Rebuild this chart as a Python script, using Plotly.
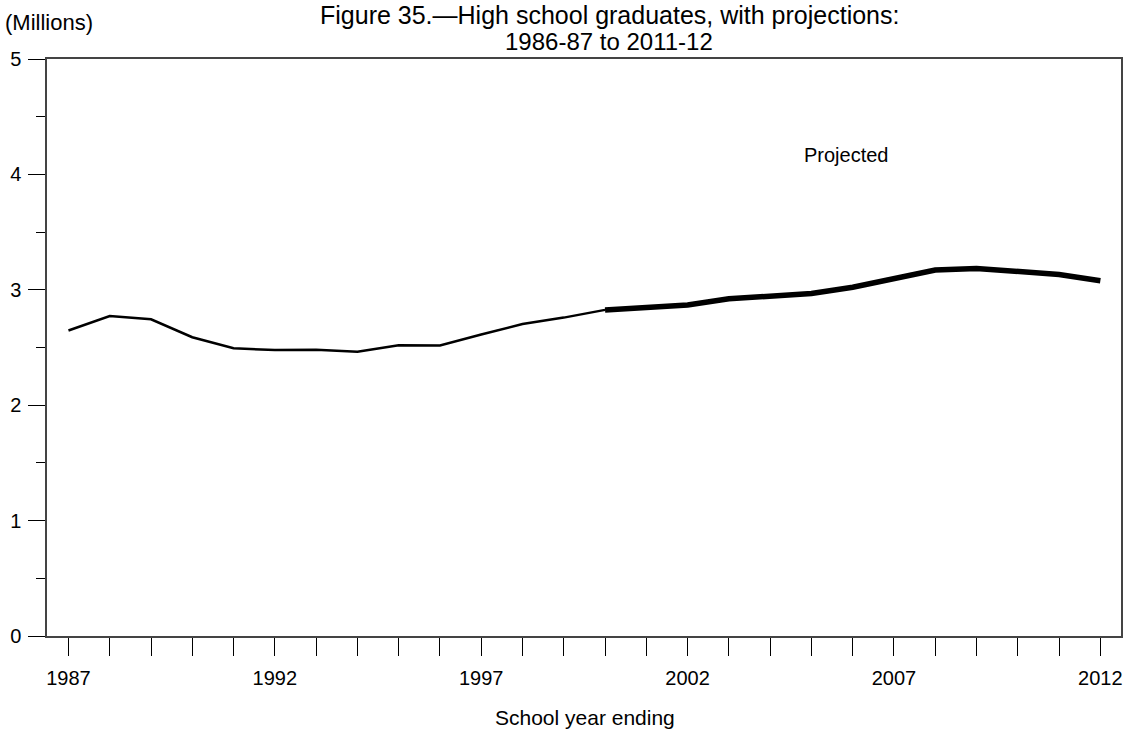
import plotly.graph_objects as go

# Data (millions of high school graduates), school year ending
hist_years = [1987, 1988, 1989, 1990, 1991, 1992, 1993, 1994, 1995, 1996, 1997, 1998, 1999, 2000]
hist_vals = [2.647, 2.773, 2.744, 2.589, 2.493, 2.478, 2.481, 2.464, 2.520, 2.518, 2.612, 2.704, 2.759, 2.826]
proj_years = [2000, 2001, 2002, 2003, 2004, 2005, 2006, 2007, 2008, 2009, 2010, 2011, 2012]
proj_vals = [2.826, 2.842, 2.869, 2.922, 2.947, 2.968, 3.022, 3.094, 3.172, 3.185, 3.162, 3.133, 3.079]

all_years = list(range(1987, 2013))
x_labels = [str(y) if (y - 1987) % 5 == 0 else "" for y in all_years]
y_ticks = [0, 1, 2, 3, 4, 5]

FONT = "Liberation Sans, Arial, sans-serif"
AXIS_COLOR = "#444444"

fig = go.Figure()
fig.add_trace(go.Scatter(x=hist_years, y=hist_vals, mode="lines",
                         line=dict(color="black", width=2.5), showlegend=False))
fig.add_trace(go.Scatter(x=proj_years, y=proj_vals, mode="lines",
                         line=dict(color="black", width=5.5), showlegend=False))

L, R, T, B = 47, 9, 59, 95
W, H = 1130, 731
ph = H - T - B
pw = W - L - R

def px_x(p):
    return (p - L) / pw

def px_y(p):
    return (H - B - p) / ph

fig.update_layout(
    width=W, height=H,
    margin=dict(l=L, r=R, t=T, b=B, autoexpand=False),
    plot_bgcolor="white", paper_bgcolor="white",
    font=dict(family=FONT, size=20, color="black"),
    xaxis=dict(
        range=[1986.48, 2012.5],
        tickmode="array", tickvals=all_years, ticktext=x_labels,
        ticks="outside", ticklen=18, tickwidth=1, tickcolor="black",
        ticklabelstandoff=5,
        showline=True, linecolor=AXIS_COLOR, linewidth=1.5, mirror=True,
        showgrid=False, zeroline=False,
        tickfont=dict(size=20, color="black"),
    ),
    yaxis=dict(
        range=[0, 5],
        tickmode="array", tickvals=y_ticks,
        ticks="outside", ticklen=17, tickwidth=1, tickcolor="black",
        ticklabelstandoff=3,
        minor=dict(tickmode="array", tickvals=[0.5, 1.5, 2.5, 3.5, 4.5],
                   ticks="outside", ticklen=9, tickwidth=1, tickcolor="black"),
        showline=True, linecolor=AXIS_COLOR, linewidth=1.5, mirror=True,
        showgrid=False, zeroline=False,
        tickfont=dict(size=20, color="black"),
    ),
    annotations=[
        dict(text="Figure 35.\u2014High school graduates, with projections:",
             x=px_x(609), y=px_y(15), xref="paper", yref="paper",
             xanchor="center", yanchor="middle", showarrow=False,
             font=dict(size=25, color="black", family=FONT)),
        dict(text="1986-87 to 2011-12",
             x=px_x(609), y=px_y(41), xref="paper", yref="paper",
             xanchor="center", yanchor="middle", showarrow=False,
             font=dict(size=24, color="black", family=FONT)),
        dict(text="(Millions)",
             x=px_x(3), y=px_y(22), xref="paper", yref="paper",
             xanchor="left", yanchor="middle", showarrow=False,
             font=dict(size=22, color="black", family=FONT)),
        dict(text="Projected",
             x=px_x(846), y=px_y(155), xref="paper", yref="paper",
             xanchor="center", yanchor="middle", showarrow=False,
             font=dict(size=20, color="black", family=FONT)),
        dict(text="School year ending",
             x=px_x(585), y=px_y(717), xref="paper", yref="paper",
             xanchor="center", yanchor="middle", showarrow=False,
             font=dict(size=21, color="black", family=FONT)),
    ],
)

fig.write_html("out.html", config={"displayModeBar": False},
               post_script="document.body.style.margin='0';document.body.style.overflow='hidden';")
